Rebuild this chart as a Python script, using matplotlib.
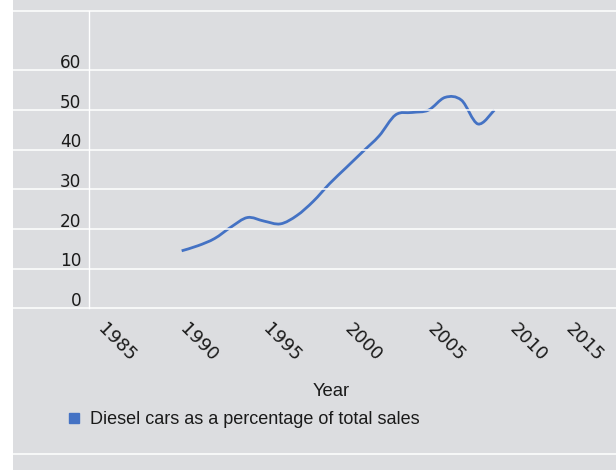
import numpy as np
import matplotlib
matplotlib.use("Agg")
import matplotlib.pyplot as plt
from matplotlib.path import Path
from matplotlib.patches import PathPatch, Rectangle
from matplotlib.lines import Line2D
import matplotlib.transforms as mtransforms

# ---- data ----
years = [1990, 1991, 1992, 1993, 1994, 1995, 1996, 1997, 1998, 1999,
         2000, 2001, 2002, 2003, 2004, 2005, 2006, 2007, 2008, 2009]
diesel_pct = [14.5, 15.8, 17.6, 20.5, 22.9, 22.0, 21.3, 23.4, 27.0, 31.5,
              35.5, 39.5, 43.5, 48.8, 49.4, 50.0, 53.2, 52.5, 46.5, 50.0]
x_ticks = [1985, 1990, 1995, 2000, 2005, 2010, 2015]
y_ticks = [0, 10, 20, 30, 40, 50, 60]
series_label = "Diesel cars as a percentage of total sales"
x_title = "Year"

# ---- style ----
W, H = 616, 470
DPI = 100
BG = "#dcdde0"
BLUE = "#4472C4"
LABEL_FONT = ["Liberation Sans", "DejaVu Sans"]
TICK_FONT = ["DejaVu Sans"]

fig = plt.figure(figsize=(W / DPI, H / DPI), dpi=DPI, facecolor="white")
# grey panel (left white strip)
fig.add_artist(Rectangle((13 / W, 0), 1 - 13 / W, 1, transform=fig.transFigure,
                         facecolor=BG, edgecolor="none", zorder=0))

ax_left, ax_right, ax_top, ax_bot = 89, 616, 11, 308.3
ax = fig.add_axes([ax_left / W, 1 - ax_bot / H, (ax_right - ax_left) / W, (ax_bot - ax_top) / H])
ax.set_facecolor("none")
ax.set_xlim(1984.37, 2016.39)
ax.set_ylim(0, 75)

for s in ["top", "right", "bottom"]:
    ax.spines[s].set_visible(False)
ax.spines["left"].set_color("white")
ax.spines["left"].set_linewidth(1.0)

# full-width white horizontal lines
blend = mtransforms.blended_transform_factory(fig.transFigure, ax.transData)
for yv in y_ticks + [75]:
    fig.add_artist(Line2D([13 / W, 1], [yv, yv], transform=blend, color="white",
                          lw=1.1, zorder=1))
fig.add_artist(Line2D([13 / W, 1], [1 - 454.3 / H] * 2, transform=fig.transFigure,
                      color="white", lw=1.1, zorder=1))

# smooth line (Catmull-Rom bezier like spreadsheet smoothing)
pts = np.column_stack([years, diesel_pct]).astype(float)
verts = [tuple(pts[0])]
codes = [Path.MOVETO]
n = len(pts)
for i in range(n - 1):
    p0 = pts[i - 1] if i > 0 else pts[i]
    p1 = pts[i]
    p2 = pts[i + 1]
    p3 = pts[i + 2] if i + 2 < n else pts[i + 1]
    c1 = p1 + (p2 - p0) / 6.0
    c2 = p2 - (p3 - p1) / 6.0
    verts += [tuple(c1), tuple(c2), tuple(p2)]
    codes += [Path.CURVE4] * 3
ax.add_patch(PathPatch(Path(verts, codes), facecolor="none", edgecolor=BLUE,
                       lw=2.0, capstyle="butt", zorder=3))

# y ticks
ax.set_yticks(y_ticks)
ax.set_yticklabels([str(v) for v in y_ticks], family=TICK_FONT, fontsize=12.2, color="#1a1a1a")
ax.tick_params(axis="y", length=0, pad=5.5)
yoff = mtransforms.ScaledTranslation(0, 2.4 / DPI, fig.dpi_scale_trans)
for lab in ax.get_yticklabels():
    lab.set_va("baseline")
    lab.set_transform(lab.get_transform() + yoff)

# x ticks
ax.set_xticks(x_ticks)
ax.set_xticklabels([str(v) for v in x_ticks], family=TICK_FONT, fontsize=13, color="#1a1a1a")
ax.tick_params(axis="x", length=0, pad=13.2)
for i, lab in enumerate(ax.get_xticklabels()):
    lab.set_rotation(-45)
    lab.set_rotation_mode("anchor")
    lab.set_ha("left")
    lab.set_va("center")
    dx = 1.2 if i < len(x_ticks) - 1 else -25.3
    lab.set_transform(lab.get_transform() +
                      mtransforms.ScaledTranslation(dx / DPI, 0, fig.dpi_scale_trans))

# axis title
ax.set_xlabel(x_title, family=LABEL_FONT, fontsize=13.3, color="#1a1a1a", va="baseline")
ax.xaxis.set_label_coords((331.5 - ax_left) / (ax_right - ax_left),
                          (ax_bot - 396) / (ax_bot - ax_top))

# legend
handle = Line2D([], [], marker="s", linestyle="none", color=BLUE, markersize=7.6)
fig.legend([handle], [series_label], loc="center left",
           bbox_to_anchor=(67.1 / W, 1 - 419.5 / H), frameon=False,
           borderpad=0, borderaxespad=0, handlelength=0.8, handletextpad=0.48,
           prop={"family": LABEL_FONT, "size": 13.0}, labelcolor="#1a1a1a")

fig.savefig("out.png", dpi=DPI, facecolor=fig.get_facecolor())
